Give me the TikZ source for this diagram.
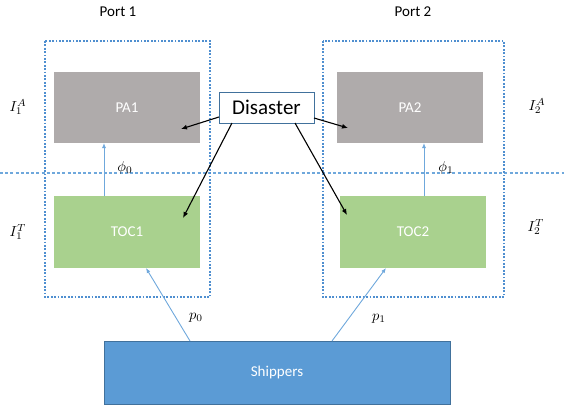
\documentclass[tikz,border=0pt]{standalone}
\usepackage{graphicx}
\usepackage{fontspec}
\setmainfont{Carlito}
\usetikzlibrary{arrows.meta}
\definecolor{pagray}{HTML}{AFABAB}
\definecolor{tocgreen}{HTML}{A9D18E}
\definecolor{shipblue}{HTML}{5B9BD5}
\definecolor{shipedge}{HTML}{41719C}
\definecolor{dotblue}{HTML}{4F8FD0}
\definecolor{lineblue}{HTML}{6FA8DC}
\newcommand{\mylbl}[1]{\scalebox{1.45}{$#1$}}
\tikzset{
  box/.style={draw=none, anchor=north west, inner sep=0pt, outer sep=0pt},
  boxtext/.style={text=white, font=\fontsize{15}{18}\selectfont},
  portframe/.style={draw=dotblue, line width=1.1pt, dash pattern=on 1.8pt off 1.6pt},
  sepline/.style={draw=lineblue, line width=1.1pt, dash pattern=on 3pt off 2.2pt},
  bluearrow/.style={draw=lineblue, line width=0.9pt, -{Latex[length=5pt,width=4pt]}},
  blackarrow/.style={draw=black, line width=1.1pt, -{Latex[length=6pt,width=5pt]}},
  lbl/.style={font=\fontsize{15}{18}\selectfont},
  mlbl/.style={inner sep=0pt}
}
\begin{document}
\begin{tikzpicture}[x=1pt,y=-1pt]
\useasboundingbox (0,0) rectangle (564,408);
% separator line
\coordinate (sepL) at (0,173);
\coordinate (sepR) at (564,173);
\draw[sepline] (sepL) -- (sepR);
% port frames
\draw[portframe] (45,41) rectangle (210,297);
\draw[portframe] (323,41) rectangle (504,297);
% boxes
\node[box, fill=pagray, minimum width=146pt, minimum height=71pt] (PA1) at (54,72) {};
\node[boxtext] at (PA1.center) {PA1};
\node[box, fill=pagray, minimum width=146pt, minimum height=71pt] (PA2) at (337,72) {};
\node[boxtext] at (PA2.center) {PA2};
\node[box, fill=tocgreen, minimum width=146pt, minimum height=72pt] (TOC1) at (54,196) {};
\node[boxtext] at (TOC1.center) {TOC1};
\node[box, fill=tocgreen, minimum width=146pt, minimum height=72pt] (TOC2) at (340,196) {};
\node[boxtext] at (TOC2.center) {TOC2};
\node[box, fill=shipblue, draw=shipedge, line width=0.8pt, minimum width=346pt, minimum height=63pt] (SH) at (104,341) {};
\node[boxtext] at (SH.center) {Shippers};
% disaster
\node[box, fill=white, draw=shipedge, line width=0.9pt, minimum width=95pt, minimum height=31pt] (DIS) at (219,92) {};
\node[font=\fontsize{21}{24}\selectfont] at (DIS.center) {Disaster};
% port labels
\node[lbl] (P1) at (118,12) {Port 1};
\node[lbl] (P2) at (413,12) {Port 2};
% side labels
\node[mlbl] (I1A) at (18,107) {\mylbl{I_1^A}};
\node[mlbl] (I1T) at (18,232) {\mylbl{I_1^T}};
\node[mlbl] (I2A) at (537,106) {\mylbl{I_2^A}};
\node[mlbl] (I2T) at (536,227) {\mylbl{I_2^T}};
% blue arrows
\draw[bluearrow] (TOC1.north west -| 104,0) -- (PA1.south west -| 104,0);
\draw[bluearrow] (TOC2.north west -| 424,0) -- (PA2.south west -| 424,0);
\node[mlbl] (phi0) at (125,168) {\mylbl{\phi_0}};
\node[mlbl] (phi1) at (446,168) {\mylbl{\phi_1}};
\coordinate (s0) at (190,341);
\coordinate (s1) at (332,341);
\draw[bluearrow] (s0) -- (TOC1.south west -| 146,0);
\draw[bluearrow] (s1) -- (TOC2.south west -| 386,0);
\node[mlbl] (p0) at (196,318) {\mylbl{p_0}};
\node[mlbl] (p1) at (379,319) {\mylbl{p_1}};
% black arrows
\coordinate (tPA1) at (181,129);
\coordinate (tPA2) at (348,128);
\coordinate (tTOC1) at (183,218);
\coordinate (tTOC2) at (347,215);
\draw[blackarrow] (DIS.west |- 0,117) -- (tPA1);
\draw[blackarrow] (DIS.east |- 0,118) -- (tPA2);
\draw[blackarrow] (DIS.south west -| 232,0) -- (tTOC1);
\draw[blackarrow] (DIS.south west -| 295,0) -- (tTOC2);
\end{tikzpicture}
\end{document}
